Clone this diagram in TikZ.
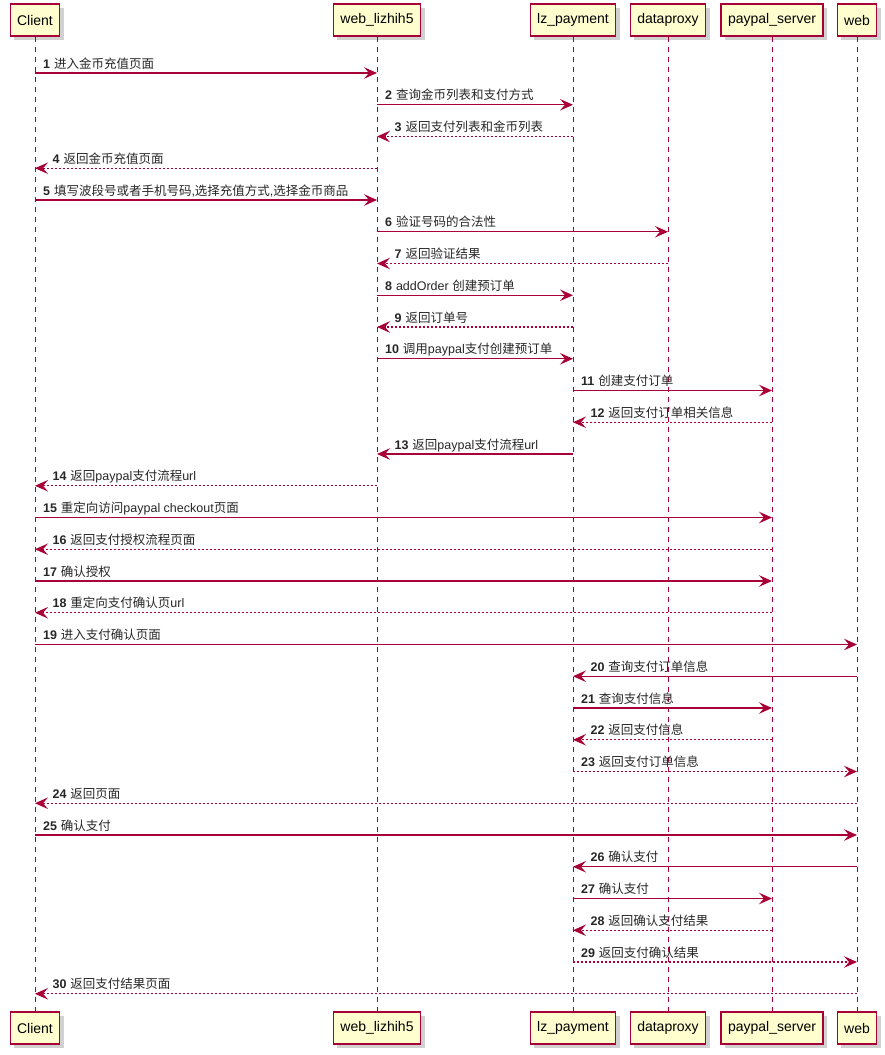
\documentclass[tikz,border=0pt]{standalone}
\usepackage{fontspec}
\setmainfont{Liberation Sans}
\newfontfamily\zhfont{Noto Sans CJK SC}
\newcommand{\zh}[1]{{\zhfont #1}}
\usetikzlibrary{arrows.meta,shadows}

\definecolor{umlred}{HTML}{A80036}
\definecolor{umlfill}{HTML}{FEFECE}

\tikzset{
  party/.style = {draw=umlred, fill=umlfill, line width=1.2pt, minimum height=32pt,
                  inner xsep=7pt, font=\fontsize{14}{16}\selectfont,
                  drop shadow={shadow xshift=4pt, shadow yshift=-4pt, opacity=0.4, fill=black!45}},
  lifeline/.style = {umlred, line width=0.9pt, dash pattern=on 5pt off 5pt},
  call/.style = {umlred, line width=1.1pt, -{Stealth[length=13pt, width=11.5pt, inset=5pt]}},
  ret/.style = {call, dash pattern=on 2pt off 2pt},
  lbl/.style = {anchor=base west, inner sep=0pt, yshift=5pt, text=black!85,
                font=\fontsize{12.5}{14}\selectfont},
  R/.style = {pos=0, xshift=7.5pt},
  L/.style = {pos=1, xshift=17pt}
}

\begin{document}
\begin{tikzpicture}[x=1pt, y=-1pt]

            \useasboundingbox (0,0) rectangle (885,1055);

            % participants, top and bottom
            \foreach \id/\xx/\name in {cl/35/Client, wl/377/web\_lizhih5, lz/573/lz\_payment,
                                       dp/668/dataproxy, ps/772/paypal\_server, wb/857/web} {
              \node [party] (\id) at (\xx,20) {\name};
              \node [party] (\id-end) at (\xx,1028) {\name};
              \draw [lifeline] (\id) -- (\id-end);
            }

            % messages
            \foreach \n/\src/\dst/\kind/\dir/\txt in {
                1/cl/wl/call/R/{\zh{进入金币充值页面}},
                2/wl/lz/call/R/{\zh{查询金币列表和支付方式}},
                3/lz/wl/ret/L/{\zh{返回支付列表和金币列表}},
                4/wl/cl/ret/L/{\zh{返回金币充值页面}},
                5/cl/wl/call/R/{\zh{填写波段号或者手机号码},\zh{选择充值方式},\zh{选择金币商品}},
                6/wl/dp/call/R/{\zh{验证号码的合法性}},
                7/dp/wl/ret/L/{\zh{返回验证结果}},
                8/wl/lz/call/R/{addOrder \zh{创建预订单}},
                9/lz/wl/ret/L/{\zh{返回订单号}},
                10/wl/lz/call/R/{\zh{调用}paypal\zh{支付创建预订单}},
                11/lz/ps/call/R/{\zh{创建支付订单}},
                12/ps/lz/ret/L/{\zh{返回支付订单相关信息}},
                13/lz/wl/call/L/{\zh{返回}paypal\zh{支付流程}url},
                14/wl/cl/ret/L/{\zh{返回}paypal\zh{支付流程}url},
                15/cl/ps/call/R/{\zh{重定向访问}paypal checkout\zh{页面}},
                16/ps/cl/ret/L/{\zh{返回支付授权流程页面}},
                17/cl/ps/call/R/{\zh{确认授权}},
                18/ps/cl/ret/L/{\zh{重定向支付确认页}url},
                19/cl/wb/call/R/{\zh{进入支付确认页面}},
                20/wb/lz/call/L/{\zh{查询支付订单信息}},
                21/lz/ps/call/R/{\zh{查询支付信息}},
                22/ps/lz/ret/L/{\zh{返回支付信息}},
                23/lz/wb/ret/R/{\zh{返回支付订单信息}},
                24/wb/cl/ret/L/{\zh{返回页面}},
                25/cl/wb/call/R/{\zh{确认支付}},
                26/wb/lz/call/L/{\zh{确认支付}},
                27/lz/ps/call/R/{\zh{确认支付}},
                28/ps/lz/ret/L/{\zh{返回确认支付结果}},
                29/lz/wb/ret/R/{\zh{返回支付确认结果}},
                30/wb/cl/ret/L/{\zh{返回支付结果页面}}} {
              \pgfmathsetmacro\yy{73+(\n-1)*31.75}
              \draw [\kind] (\src |- 0,\yy) -- node [lbl, \dir] {\textbf{\n}\hspace{4pt}\txt} (\dst |- 0,\yy);
            }
            \end{tikzpicture}
\end{document}
